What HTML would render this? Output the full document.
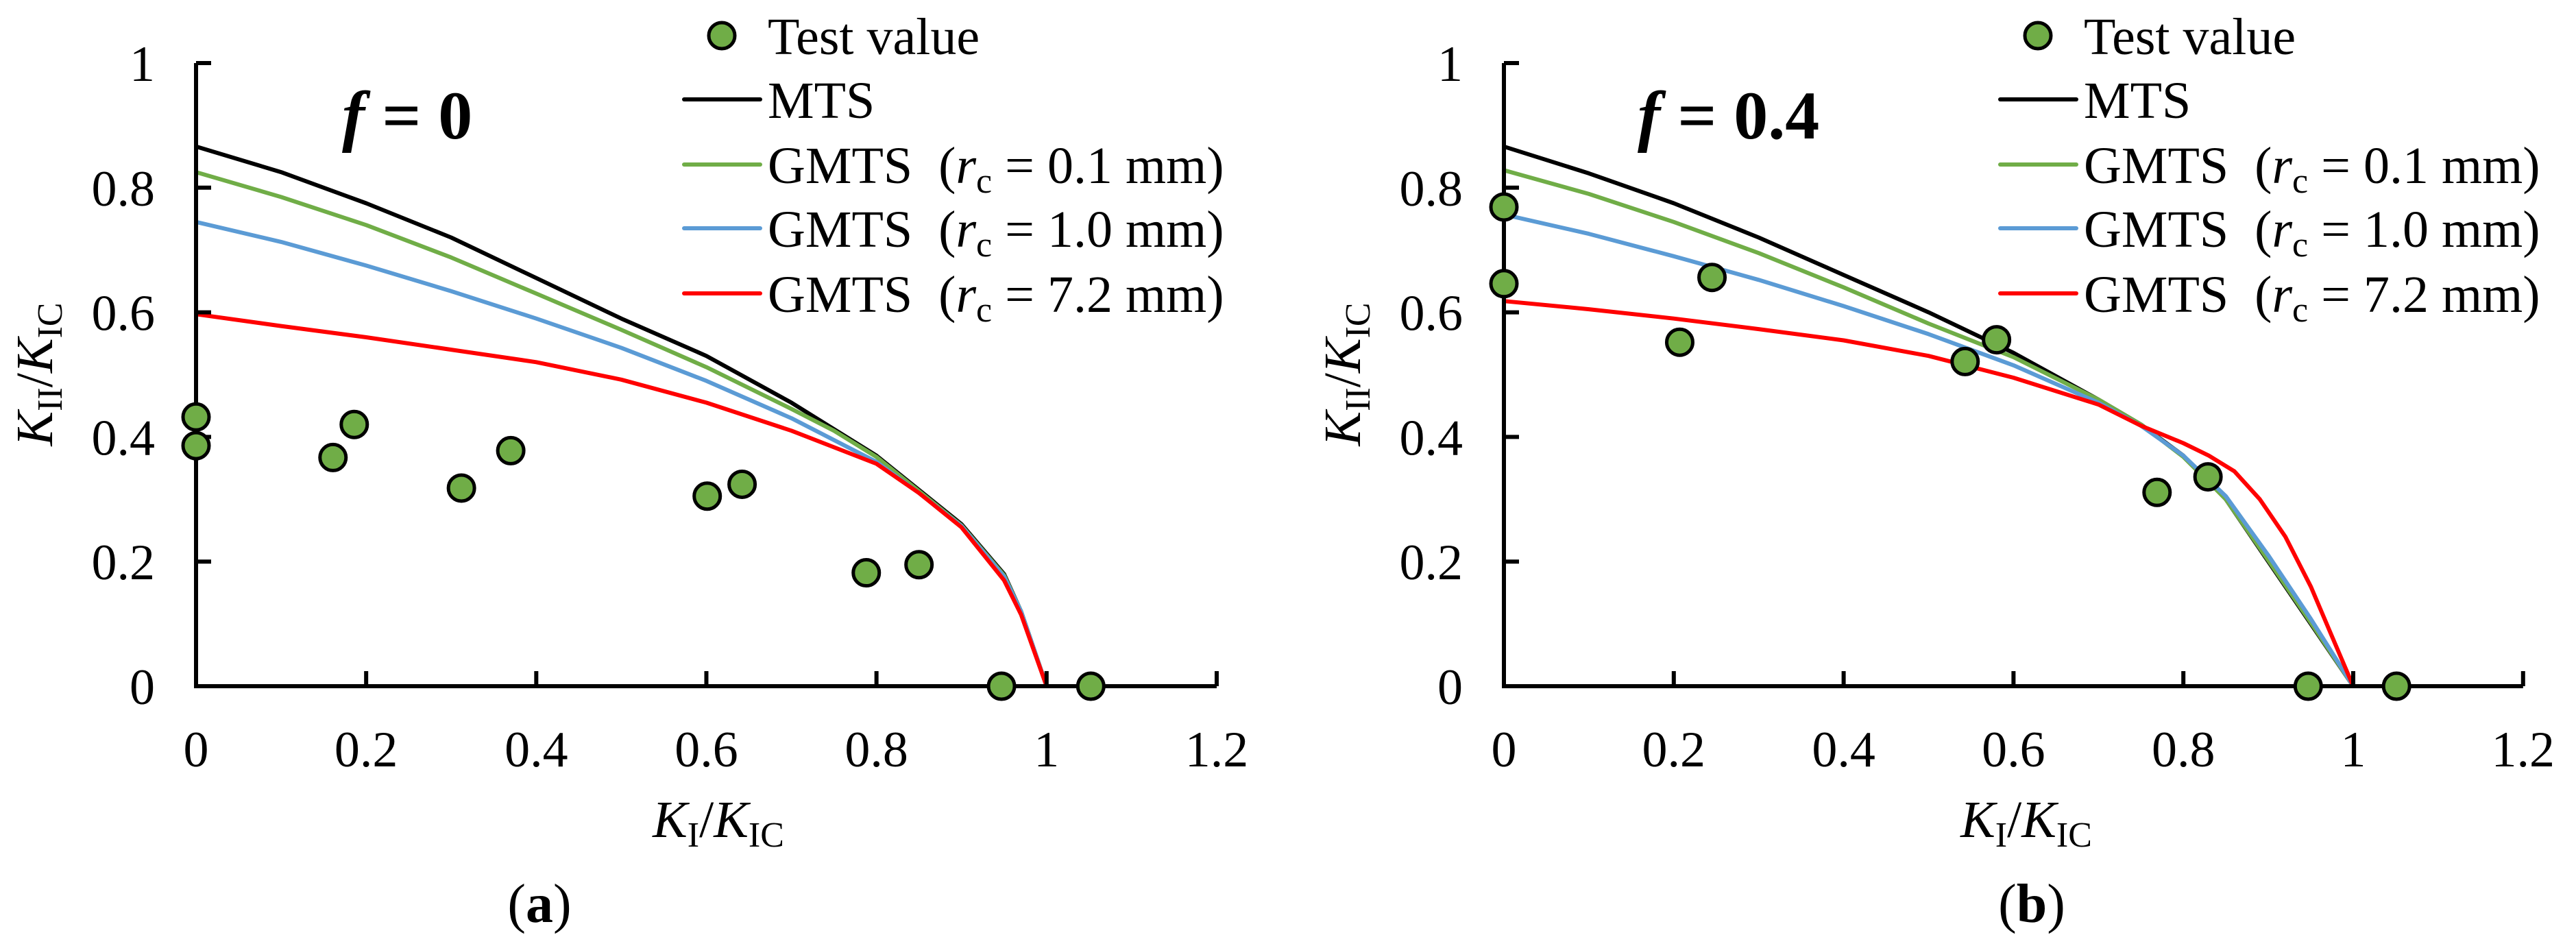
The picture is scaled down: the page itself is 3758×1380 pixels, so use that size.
<!DOCTYPE html>
<html><head><meta charset="utf-8"><style>
html,body{margin:0;padding:0;background:#fff}
svg{display:block}
svg text{font-family:"Liberation Serif","Times New Roman","DejaVu Serif",serif;fill:#000}
</style></head><body>
<svg id="chart" width="3758" height="1380" viewBox="0 0 3758 1380" xmlns="http://www.w3.org/2000/svg" font-family="Liberation Serif, serif"></svg>
<script>
// ---------- data ----------
const xTicks = [0,0.2,0.4,0.6,0.8,1,1.2];
const yTicks = [0,0.2,0.4,0.6,0.8,1];
const xTickLabels = ["0","0.2","0.4","0.6","0.8","1","1.2"];
const yTickLabels = ["0","0.2","0.4","0.6","0.8","1"];
const legendLabels = ["Test value","MTS","GMTS","GMTS","GMTS"];
const legendRc = ["","","0.1","1.0","7.2"];
const seriesColors = ["#000000","#70ad47","#5b9bd5","#ff0000"];

// panel a (f = 0)
const aTestX = [0,0,0.161,0.186,0.312,0.37,0.601,0.642,0.788,0.85,0.947,1.052];
const aTestY = [0.432,0.386,0.367,0.42,0.318,0.378,0.305,0.324,0.182,0.195,0,0];
const aMtsX = [0,0.1,0.2,0.3,0.4,0.5,0.6,0.7,0.8,0.85,0.9,0.95,0.97,1];
const aMtsY = [0.866,0.825,0.775,0.72,0.655,0.59,0.53,0.455,0.37,0.315,0.26,0.18,0.12,0];
const aG01X = [0,0.1,0.2,0.3,0.4,0.5,0.6,0.7,0.75,0.8,0.85,0.9,0.95,0.97,1];
const aG01Y = [0.825,0.785,0.74,0.688,0.63,0.572,0.512,0.445,0.41,0.368,0.313,0.258,0.178,0.12,0];
const aG10X = [0,0.1,0.2,0.3,0.4,0.5,0.6,0.7,0.75,0.8,0.85,0.9,0.95,0.97,1];
const aG10Y = [0.745,0.713,0.675,0.634,0.59,0.543,0.49,0.43,0.395,0.36,0.31,0.257,0.176,0.12,0];
const aG72X = [0,0.1,0.2,0.3,0.4,0.5,0.6,0.7,0.8,0.85,0.9,0.95,0.97,1];
const aG72Y = [0.597,0.578,0.56,0.54,0.52,0.492,0.455,0.41,0.357,0.31,0.255,0.17,0.115,0];

// panel b (f = 0.4)
const bTestX = [0,0,0.207,0.245,0.543,0.58,0.769,0.829,0.947,1.051];
const bTestY = [0.769,0.646,0.552,0.656,0.521,0.556,0.311,0.336,0,0];
const bMtsX = [0,0.1,0.2,0.3,0.4,0.5,0.6,0.7,0.75,0.8,0.85,0.9,0.95,1];
const bMtsY = [0.866,0.823,0.775,0.72,0.66,0.6,0.535,0.46,0.42,0.37,0.3,0.2,0.1,0];
const bG01X = [0,0.1,0.2,0.3,0.4,0.5,0.6,0.7,0.75,0.8,0.85,0.9,0.95,1];
const bG01Y = [0.828,0.79,0.745,0.695,0.64,0.582,0.528,0.46,0.42,0.368,0.3,0.202,0.102,0];
const bG10X = [0,0.1,0.2,0.3,0.4,0.5,0.6,0.7,0.75,0.8,0.85,0.9,0.95,1];
const bG10Y = [0.757,0.726,0.69,0.652,0.61,0.565,0.515,0.455,0.418,0.37,0.305,0.21,0.108,0];
const bG72X = [0,0.1,0.2,0.3,0.4,0.5,0.6,0.7,0.75,0.8,0.83,0.86,0.89,0.92,0.95,0.975,1];
const bG72Y = [0.618,0.605,0.59,0.573,0.555,0.53,0.495,0.452,0.418,0.39,0.37,0.345,0.3,0.24,0.16,0.08,0];

// ---------- drawing ----------
const NS = "http://www.w3.org/2000/svg";
const svg = document.getElementById("chart");
function mk(tag, attrs, parent){
  const e = document.createElementNS(NS, tag);
  for (const k in attrs) e.setAttribute(k, attrs[k]);
  (parent||svg).appendChild(e);
  return e;
}
function subLabel(parent, x, y, parts, anchor, rot, name){
  const t = mk("text", {x:x, y:y, "font-size":76, "text-anchor":anchor||"middle"}, parent);
  
  
  if (rot) t.setAttribute("transform", "rotate(-90 "+x+" "+y+")");
  parts.forEach(p=>{
    const s = mk("tspan", {}, t);
    if (p.i) s.setAttribute("font-style","italic");
    if (p.sub){ s.setAttribute("font-size","52"); s.setAttribute("dy","14"); }
    if (p.up){ s.setAttribute("dy","-14"); }
    s.textContent = p.t;
  });
  return t;
}

function panel(cfg){
  const g = mk("g", {});
  
  
  const X = v => cfg.x0 + v * cfg.ux;
  const Y = v => cfg.y0 - v * cfg.uy;

  const curves = [[cfg.mx,cfg.my,"mts-curve"],[cfg.g1x,cfg.g1y,"gmts-0.1mm-curve"],[cfg.g2x,cfg.g2y,"gmts-1.0mm-curve"],[cfg.g3x,cfg.g3y,"gmts-7.2mm-curve"]];
  [0,1,2,3].forEach(i=>{
    const c = curves[i];
    let d = "";
    c[0].forEach((v,j)=>{ d += (j? " L":"M") + X(v).toFixed(1) + " " + Y(c[1][j]).toFixed(1); });
    const p = mk("path", {d:d, fill:"none", stroke:seriesColors[i], "stroke-width":6, "stroke-linejoin":"round"}, g);
    
    
  });

  const ax = mk("path", {d:"M"+X(0)+" "+Y(1)+" L"+X(0)+" "+Y(0)+" L"+X(1.2)+" "+Y(0), fill:"none", stroke:"#000", "stroke-width":6}, g);
  
  
  xTicks.forEach((v,i)=>{
    if (i>0){
      const t = mk("line", {x1:X(v), x2:X(v), y1:Y(0), y2:Y(0)-22, stroke:"#000","stroke-width":6}, g);
      
      
    }
    const l = mk("text", {x:X(v), y:1118, "font-size":74, "text-anchor":"middle"}, g);
    
    
    l.textContent = xTickLabels[i];
  });
  yTicks.forEach((v,i)=>{
    if (i>0){
      const t = mk("line", {x1:X(0), x2:X(0)+22, y1:Y(v), y2:Y(v), stroke:"#000","stroke-width":6}, g);
      
      
    }
    const l = mk("text", {x:X(0)-60, y:Y(v)+26, "font-size":74, "text-anchor":"end"}, g);
    
    
    l.textContent = yTickLabels[i];
  });

  cfg.tx.forEach((v,i)=>{
    const c = mk("circle", {cx:X(v), cy:Y(cfg.ty[i]), r:19, fill:"#70ad47", stroke:"#000", "stroke-width":5}, g);
    
    
  });

  subLabel(g, cfg.x0-210, 546, [{t:"K",i:1},{t:"II",sub:1},{t:"/",up:1},{t:"K",i:1},{t:"IC",sub:1}], "middle", true, "y-axis-title");
  subLabel(g, cfg.x0+762, 1221, [{t:"K",i:1},{t:"I",sub:1},{t:"/",up:1},{t:"K",i:1},{t:"IC",sub:1}], "middle", false, "x-axis-title");

  const pl = mk("text", {x:cfg.x0+cfg.labDx, y:1345, "font-size":80, "text-anchor":"middle"}, g);
  
  
  pl.innerHTML = '(<tspan font-weight="bold">'+cfg.lab+'</tspan>)';

  const ft = mk("text", {x:cfg.x0+cfg.fDx, y:202, "font-size":100, "font-weight":"bold"}, g);
  
  
  ft.innerHTML = '<tspan font-style="italic">f</tspan> = '+cfg.f;

  const lg = mk("g", {}, g);
  
  
  const rows = [52,145,240,333,428];
  rows.forEach((ry,i)=>{
    const e = mk("g", {}, lg);
    
    
    if (i===0){
      mk("circle", {cx:cfg.lx+55, cy:ry, r:19, fill:"#70ad47", stroke:"#000", "stroke-width":5}, e);
    } else {
      mk("line", {x1:cfg.lx, x2:cfg.lx+111, y1:ry, y2:ry, stroke:seriesColors[i-1], "stroke-width":6, "stroke-linecap":"round"}, e);
    }
    const t = mk("text", {x:cfg.lx+122, y:ry+27, "font-size":76}, e);
    if (i<2) t.textContent = legendLabels[i];
    else t.innerHTML = legendLabels[i]+'\u00a0\u00a0(<tspan font-style="italic">r</tspan><tspan font-size="52" dy="14">c</tspan><tspan dy="-14"> = '+legendRc[i]+' mm)</tspan>';
  });
}

panel({name:"panel-a", x0:286, y0:1001, ux:1240.8, uy:909, tx:aTestX, ty:aTestY,
  mx:aMtsX,my:aMtsY,g1x:aG01X,g1y:aG01Y,g2x:aG10X,g2y:aG10Y,g3x:aG72X,g3y:aG72Y,
  lab:"a", labDx:501, fDx:213, f:"0", lx:998});
panel({name:"panel-b", x0:2194, y0:1001, ux:1239, uy:909, tx:bTestX, ty:bTestY,
  mx:bMtsX,my:bMtsY,g1x:bG01X,g1y:bG01Y,g2x:bG10X,g2y:bG10Y,g3x:bG72X,g3y:bG72Y,
  lab:"b", labDx:770, fDx:195, f:"0.4", lx:2918});
</script>
</body></html>
